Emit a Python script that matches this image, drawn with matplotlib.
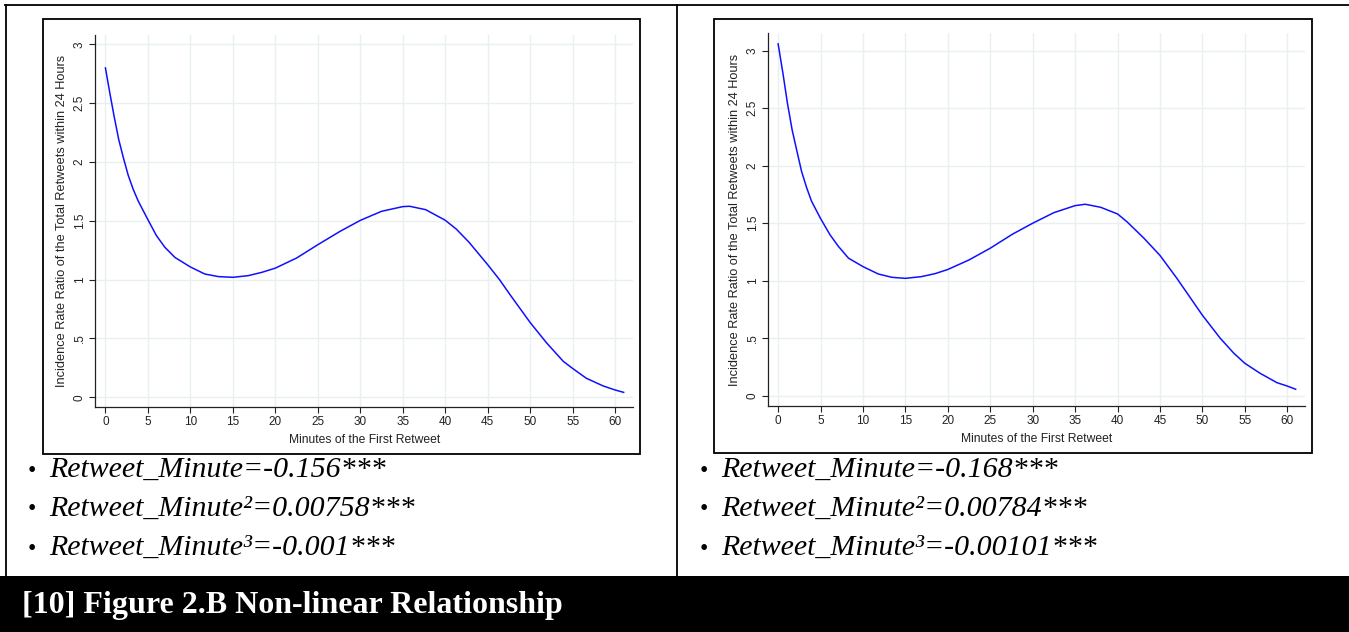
import matplotlib
matplotlib.use("Agg")
import matplotlib.pyplot as plt
from matplotlib.patches import Rectangle
from matplotlib.lines import Line2D

W, H = 1349, 632
DPI = 100

# Data
minutes_left = [0, 0.51, 1.02, 1.57, 2.1, 2.67, 3.26, 3.85, 5, 6, 7, 8.2, 10, 11.7, 13.3, 15,
                16.8, 18.4, 20, 22.5, 25, 27.6, 30, 32.5, 35, 35.8, 37.7, 40, 41.3, 42.8,
                45, 46.4, 47.6, 50, 51.9, 53.9, 55, 56.6, 58.6, 60, 61]
irr_left = [2.80, 2.59, 2.39, 2.19, 2.04, 1.89, 1.77, 1.67, 1.51, 1.375, 1.275, 1.188, 1.108, 1.048, 1.026, 1.02,
            1.034, 1.062, 1.098, 1.184, 1.297, 1.41, 1.504, 1.581, 1.621, 1.624, 1.595, 1.505, 1.43, 1.318,
            1.127, 0.999, 0.875, 0.635, 0.465, 0.305, 0.245, 0.162, 0.096, 0.062, 0.042]
minutes_right = [0, 0.59, 1.1, 1.65, 2.17, 2.76, 3.35, 3.94, 5, 6.1, 7.1, 8.3, 10, 11.8, 13.4, 15,
                 16.9, 18.5, 20, 22.5, 25, 27.6, 30, 32.5, 35, 36.2, 38, 40, 41.1, 43.1,
                 45, 47, 48.5, 50, 52.1, 53.7, 55, 56.8, 58.8, 60, 61]
irr_right = [3.058, 2.79, 2.54, 2.31, 2.14, 1.95, 1.81, 1.69, 1.54, 1.40, 1.298, 1.195, 1.122, 1.058, 1.029, 1.02,
             1.035, 1.061, 1.097, 1.18, 1.282, 1.403, 1.499, 1.591, 1.652, 1.664, 1.638, 1.58, 1.513, 1.37,
             1.22, 1.02, 0.86, 0.70, 0.50, 0.37, 0.282, 0.195, 0.113, 0.084, 0.056]

xticks = [0, 5, 10, 15, 20, 25, 30, 35, 40, 45, 50, 55, 60]
yticks = [0, 0.5, 1, 1.5, 2, 2.5, 3]
ytick_labels = ["0", ".5", "1", "1.5", "2", "2.5", "3"]
xlabel = "Minutes of the First Retweet"
ylabel = "Incidence Rate Ratio of the Total Retweets within 24 Hours"

bullets_left = ["Retweet_Minute=-0.156***", "Retweet_Minute\u00b2=0.00758***", "Retweet_Minute\u00b3=-0.001***"]
bullets_right = ["Retweet_Minute=-0.168***", "Retweet_Minute\u00b2=0.00784***", "Retweet_Minute\u00b3=-0.00101***"]
footer = "[10] Figure 2.B Non-linear Relationship"

fig = plt.figure(figsize=(W / DPI, H / DPI), dpi=DPI)
fig.patch.set_facecolor("white")

def fx(px):
    return px / W

def fy(py):
    return 1 - py / H

# Frame lines of the table
fig.add_artist(Line2D([fx(5), fx(1349)], [fy(5), fy(5)], color="black", lw=1.3))
fig.add_artist(Line2D([fx(6), fx(6)], [fy(5), fy(576)], color="black", lw=1.3))
fig.add_artist(Line2D([fx(677), fx(677)], [fy(5), fy(576)], color="black", lw=1.3))

# Image boxes
for (x0, y0, x1, y1) in [(43, 19, 640, 454), (714, 19, 1312, 453)]:
    fig.add_artist(Rectangle((fx(x0), fy(y1)), fx(x1 - x0), (y1 - y0) / H,
                             fill=False, edgecolor="black", lw=1.3))

def make_axes(left_px, right_px, bottom_py, top_py, xlim, ylim, xs, ys):
    ax = fig.add_axes([fx(left_px), fy(bottom_py), (right_px - left_px) / W, (bottom_py - top_py) / H])
    ax.plot(xs, ys, color="#1010FF", lw=1.1)
    ax.set_xlim(*xlim)
    ax.set_ylim(*ylim)
    ax.set_xticks(xticks)
    ax.set_yticks(yticks)
    ax.set_yticklabels(ytick_labels, rotation=90, va="center")
    ax.grid(True, color="#E8F0F2", lw=1.0)
    ax.set_axisbelow(True)
    for s in ["top", "right"]:
        ax.spines[s].set_visible(False)
    for s in ["left", "bottom"]:
        ax.spines[s].set_color("#222222")
        ax.spines[s].set_linewidth(0.9)
    ax.tick_params(axis="both", direction="out", length=4, width=0.8, color="#222222",
                   labelsize=8.5, labelcolor="#222222", pad=3)
    for lab in ax.get_xticklabels() + ax.get_yticklabels():
        lab.set_fontfamily("Liberation Sans")
    ax.set_xlabel(xlabel, fontsize=8.7, fontfamily="Liberation Sans", color="#222222", labelpad=4)
    ax.set_ylabel(ylabel, fontsize=9.2, fontfamily="Liberation Sans", color="#222222", labelpad=4)
    return ax

make_axes(95.4, 633, 406.7, 35, (-1.18, 62.1), (-0.08, 3.08), minutes_left, irr_left)
make_axes(768.3, 1305, 405.7, 33.3, (-1.16, 62.1), (-0.087, 3.15), minutes_right, irr_right)

# Bullet texts
line_y = [470, 509, 548]
for x_b, items in [(28, bullets_left), (700, bullets_right)]:
    for yy, t in zip(line_y, items):
        fig.text(fx(x_b), fy(yy + 1), "\u2022", fontsize=17, fontfamily="Liberation Serif",
                 va="center", ha="left")
        fig.text(fx(x_b + 21), fy(yy), t, fontsize=21.5, fontfamily="Liberation Serif",
                 fontstyle="italic", va="center", ha="left")

# Footer band
fig.add_artist(Rectangle((0, 0), 1, (632 - 576) / H, facecolor="black", edgecolor="none"))
fig.text(fx(22), fy(605), footer, fontsize=23, fontfamily="Liberation Serif", fontweight="bold",
         color="white", va="center", ha="left")

fig.savefig("out.png", dpi=DPI)
